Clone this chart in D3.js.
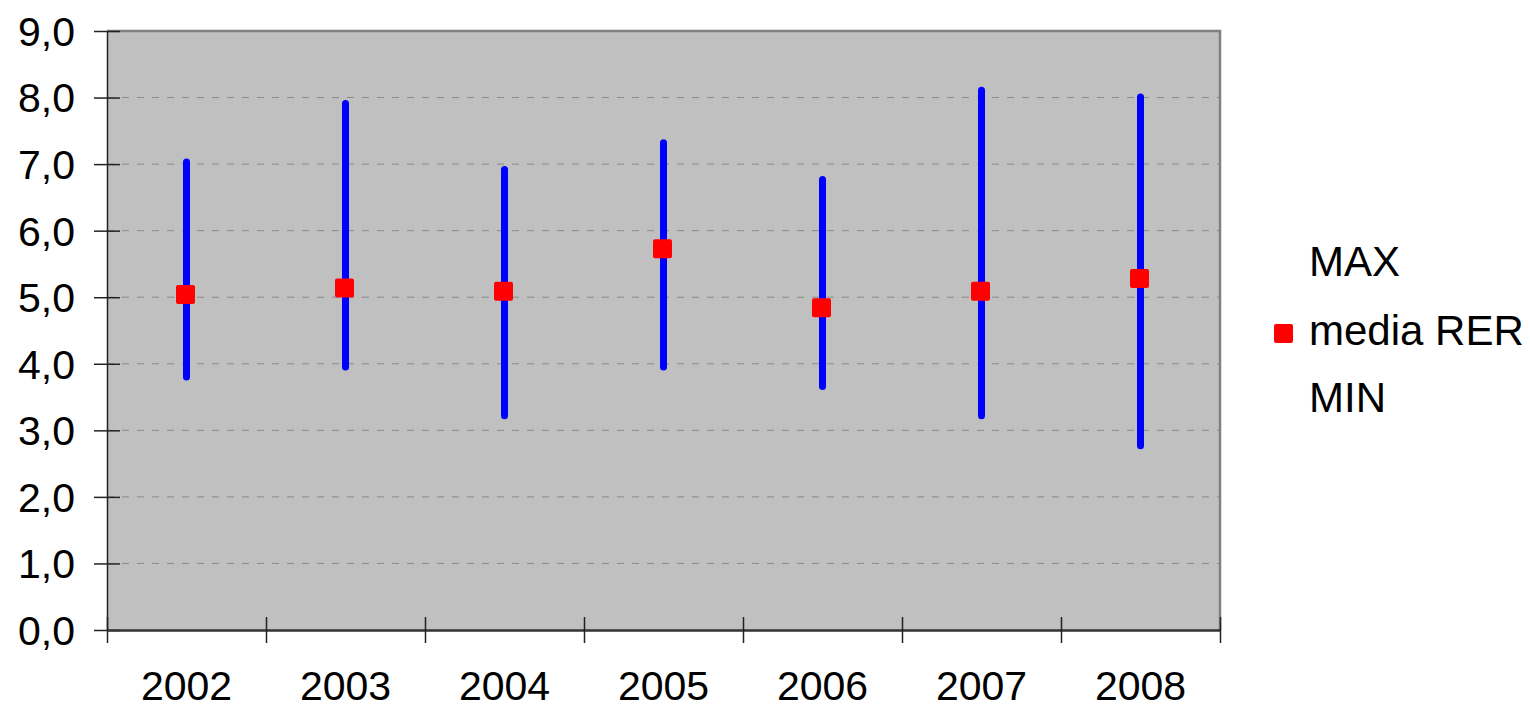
<!DOCTYPE html>
<html>
<head>
<meta charset="utf-8">
<script src="https://cdn.jsdelivr.net/npm/d3@7"></script>
<style>
  html, body { margin: 0; padding: 0; background: #fff; }
  svg text { font-family: 'Liberation Sans', Arial, sans-serif; fill: #000; }
</style>
</head>
<body>
<div id="chart"></div>
<script>
// data
const years = ['2002', '2003', '2004', '2005', '2006', '2007', '2008'];
const maxValues = [7.03, 7.91, 6.92, 7.32, 6.77, 8.11, 8.01];
const meanValues = [5.04, 5.14, 5.09, 5.73, 4.84, 5.09, 5.28];
const minValues = [3.80, 3.95, 3.22, 3.95, 3.66, 3.22, 2.77];
const yTicks = [0, 1, 2, 3, 4, 5, 6, 7, 8, 9];
const legendLabels = ['MAX', 'media RER', 'MIN'];

// set the dimensions and margins of the graph
const margin = {top: 31, right: 310, bottom: 78, left: 107};
const width = 1530 - margin.left - margin.right;
const height = 708 - margin.top - margin.bottom;

const svg = d3.select('#chart')
    .append('svg')
    .attr('width', 1530)
    .attr('height', 708)
    .append('g')
    .attr('transform', 'translate(' + margin.left + ',' + margin.top + ')');

const rows = years.map((year, i) => ({
  year: year,
  max: maxValues[i],
  mean: meanValues[i],
  min: minValues[i],
}));

// scales
const x = d3.scaleBand()
    .domain(years)
    .range([0, width]);
const xEdges = d3.scaleLinear()
    .domain([0, years.length])
    .range([0, width]);
const y = d3.scaleLinear()
    .domain([0, 9])
    .range([height, 0]);

// plot area background
svg.append('rect')
    .attr('width', width)
    .attr('height', height)
    .attr('fill', '#c0c0c0');

// dashed gridlines
svg.append('g')
    .selectAll('line')
    .data(yTicks.filter((d) => d > 0 && d < 9))
    .join('line')
    .attr('x1', 0)
    .attr('x2', width)
    .attr('y1', (d) => y(d))
    .attr('y2', (d) => y(d))
    .attr('stroke', '#8a8a8a')
    .attr('stroke-width', 1)
    .attr('stroke-dasharray', '7,8');

// top and right frame
svg.append('path')
    .attr('d', 'M0,' + y(9) + 'H' + width + 'V' + height)
    .attr('fill', 'none')
    .attr('stroke', '#808080')
    .attr('stroke-width', 2.5);

// Y axis
const yAxis = svg.append('g')
    .call(d3.axisLeft(y)
        .tickValues(yTicks)
        .tickSizeOuter(0)
        .tickFormat((d) => d.toFixed(1).replace('.', ',')));
yAxis.select('.domain').attr('stroke', '#222').attr('stroke-width', 1.5);
yAxis.selectAll('.tick line')
    .attr('x1', -13)
    .attr('x2', 13)
    .attr('stroke', '#222')
    .attr('stroke-width', 1.5);
yAxis.selectAll('.tick text')
    .attr('x', -32)
    .attr('dy', '0.35em')
    .style('font-size', '41px')
    .style('font-family', '\'Liberation Sans\', Arial, sans-serif');

// X axis: boundary ticks
const xTickAxis = svg.append('g')
    .attr('transform', 'translate(0,' + height + ')')
    .call(d3.axisBottom(xEdges)
        .tickValues(d3.range(years.length + 1))
        .tickSizeOuter(0)
        .tickFormat(''));
xTickAxis.select('.domain').attr('stroke', '#333').attr('stroke-width', 2.5);
xTickAxis.selectAll('.tick line')
    .attr('y1', -13)
    .attr('y2', 13)
    .attr('stroke', '#222')
    .attr('stroke-width', 1.5);

// X axis: category labels
const xAxis = svg.append('g')
    .attr('transform', 'translate(0,' + height + ')')
    .call(d3.axisBottom(x).tickSize(0));
xAxis.select('.domain').remove();
xAxis.selectAll('.tick text')
    .attr('y', 70)
    .attr('dy', 0)
    .style('font-size', '41px')
    .style('font-family', '\'Liberation Sans\', Arial, sans-serif');

// high-low lines
svg.append('g')
    .selectAll('line')
    .data(rows)
    .join('line')
    .attr('x1', (d) => x(d.year) + x.bandwidth() / 2)
    .attr('x2', (d) => x(d.year) + x.bandwidth() / 2)
    .attr('y1', (d) => y(d.max))
    .attr('y2', (d) => y(d.min))
    .attr('stroke', '#0000ff')
    .attr('stroke-width', 7)
    .attr('stroke-linecap', 'round');

// mean markers
const markerSize = 19;
svg.append('g')
    .selectAll('rect')
    .data(rows)
    .join('rect')
    .attr('x', (d) => x(d.year) + x.bandwidth() / 2 - markerSize / 2 - 1)
    .attr('y', (d) => y(d.mean) - markerSize / 2)
    .attr('width', markerSize)
    .attr('height', markerSize)
    .attr('rx', 2)
    .attr('fill', '#ff0000');

// legend
const legend = svg.append('g')
    .attr('transform', 'translate(' + (width + 89) + ',0)');
const legendY = [245, 314, 381];
legend.selectAll('text')
    .data(legendLabels)
    .join('text')
    .attr('x', 0)
    .attr('y', (d, i) => legendY[i])
    .style('font-size', '42px')
    .text((d) => d);
legend.append('rect')
    .attr('x', -35)
    .attr('y', 293)
    .attr('width', markerSize)
    .attr('height', markerSize)
    .attr('rx', 2)
    .attr('fill', '#ff0000');
</script>
</body>
</html>
